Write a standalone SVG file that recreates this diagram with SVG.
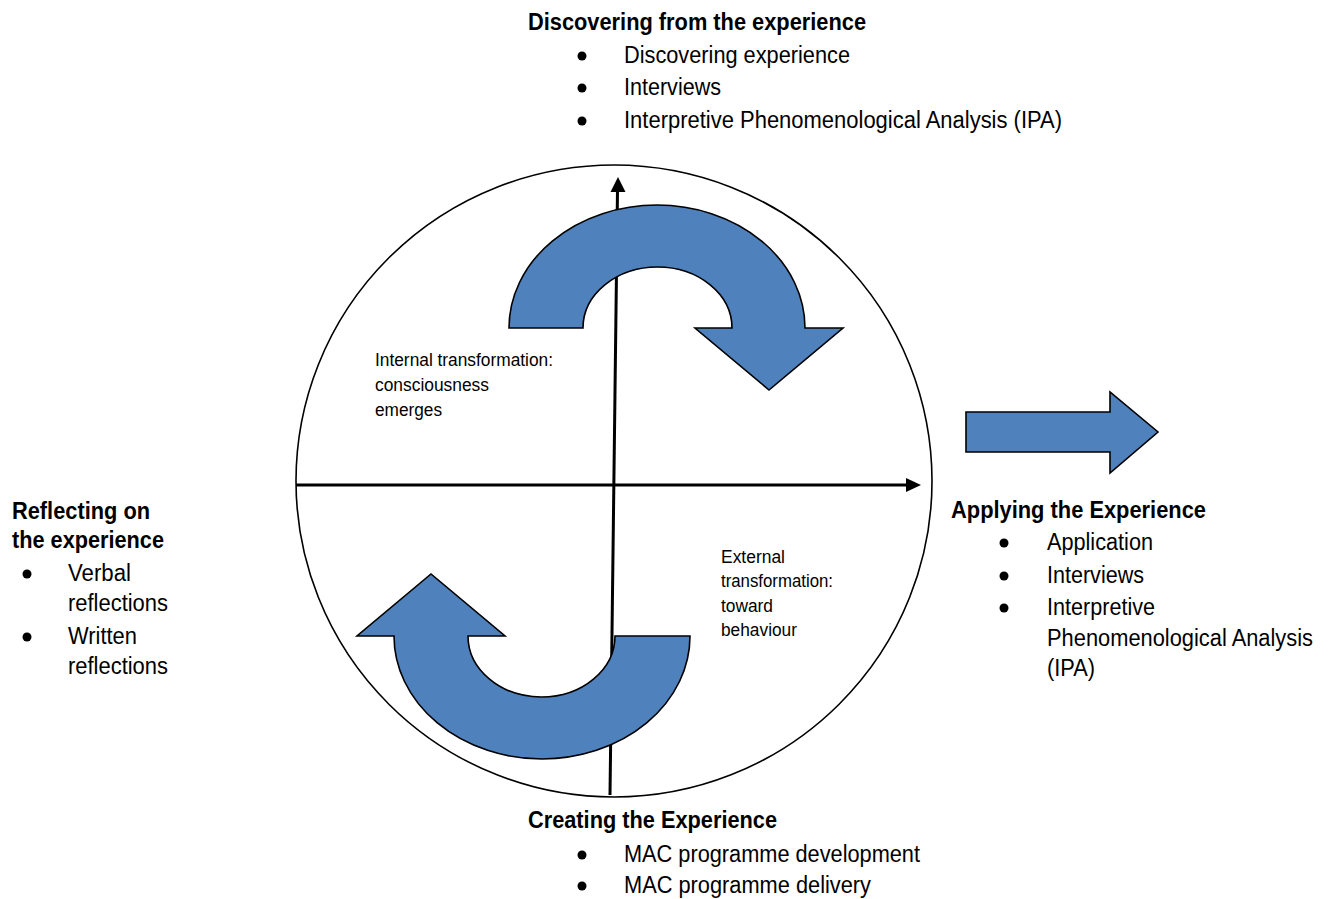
<svg xmlns="http://www.w3.org/2000/svg" width="1330" height="899" viewBox="0 0 1330 899">
<defs>
<style>
.t{font-family:"Liberation Sans Narrow","Liberation Sans",Arial,sans-serif;fill:#000}
.h{font-size:23px;font-weight:bold}
.b{font-size:23px}
.s{font-size:17.5px}
.blt{fill:#000}
.arr{fill:#4F81BD;stroke:#000;stroke-width:1.6;stroke-linejoin:miter}
.ax{stroke:#000;stroke-width:3;fill:none}
</style>
</defs>
<rect width="1330" height="899" fill="#fff"/>

<g id="cycle">
<ellipse cx="614" cy="481" rx="318" ry="316" fill="none" stroke="#000" stroke-width="1.6"/>
</g>

<g id="connectors">
<line class="ax" x1="296" y1="485" x2="910" y2="485"/>
<path d="M906,478 L921,485 L906,492 Z" fill="#000"/>
<line class="ax" x1="610" y1="795" x2="617.5" y2="190"/>
<path d="M610.5,192 L618,177 L625.5,192 Z" fill="#000"/>
</g>

<g id="arrow-top">
<path class="arr" d="M509,328 A148,123 0 0 1 805,328 L843,328 L769,390 L695,328 L732,328 A74.5,61 0 0 0 583,328 Z"/>
</g>

<g id="arrow-bottom">
<path class="arr" d="M690,636 A148,123 0 0 1 394,636 L357,636 L431,574 L505,636 L468,636 A73.5,61 0 0 0 615,636 Z"/>
</g>

<g id="arrow-right">
<path class="arr" d="M966,412 L1110,412 L1110,392 L1158,432 L1110,473 L1110,452 L966,452 Z"/>
</g>

<g id="node-discovering">
<text class="t h" x="528" y="30" textLength="338" lengthAdjust="spacingAndGlyphs">Discovering from the experience</text>
<circle class="blt" cx="582" cy="56" r="4.5"/>
<text class="t b" x="624" y="63" textLength="226" lengthAdjust="spacingAndGlyphs">Discovering experience</text>
<circle class="blt" cx="582" cy="88" r="4.5"/>
<text class="t b" x="624" y="95" textLength="97" lengthAdjust="spacingAndGlyphs">Interviews</text>
<circle class="blt" cx="582" cy="121" r="4.5"/>
<text class="t b" x="624" y="128" textLength="438" lengthAdjust="spacingAndGlyphs">Interpretive Phenomenological Analysis (IPA)</text>
</g>

<g id="node-reflecting">
<text class="t h" x="12" y="519" textLength="138" lengthAdjust="spacingAndGlyphs">Reflecting on</text>
<text class="t h" x="12" y="548" textLength="152" lengthAdjust="spacingAndGlyphs">the experience</text>
<circle class="blt" cx="27" cy="574" r="4.5"/>
<text class="t b" x="68" y="581" textLength="63" lengthAdjust="spacingAndGlyphs">Verbal</text>
<text class="t b" x="68" y="611" textLength="100" lengthAdjust="spacingAndGlyphs">reflections</text>
<circle class="blt" cx="27" cy="637" r="4.5"/>
<text class="t b" x="68" y="644" textLength="69" lengthAdjust="spacingAndGlyphs">Written</text>
<text class="t b" x="68" y="674" textLength="100" lengthAdjust="spacingAndGlyphs">reflections</text>
</g>

<g id="node-applying">
<text class="t h" x="951" y="518" textLength="255" lengthAdjust="spacingAndGlyphs">Applying the Experience</text>
<circle class="blt" cx="1004" cy="543" r="4.5"/>
<text class="t b" x="1047" y="550" textLength="106" lengthAdjust="spacingAndGlyphs">Application</text>
<circle class="blt" cx="1004" cy="576" r="4.5"/>
<text class="t b" x="1047" y="583" textLength="97" lengthAdjust="spacingAndGlyphs">Interviews</text>
<circle class="blt" cx="1004" cy="608" r="4.5"/>
<text class="t b" x="1047" y="615" textLength="108" lengthAdjust="spacingAndGlyphs">Interpretive</text>
<text class="t b" x="1047" y="646" textLength="266" lengthAdjust="spacingAndGlyphs">Phenomenological Analysis</text>
<text class="t b" x="1047" y="676" textLength="48" lengthAdjust="spacingAndGlyphs">(IPA)</text>
</g>

<g id="node-creating">
<text class="t h" x="528" y="828" textLength="249" lengthAdjust="spacingAndGlyphs">Creating the Experience</text>
<circle class="blt" cx="582" cy="855" r="4.5"/>
<text class="t b" x="624" y="862" textLength="296" lengthAdjust="spacingAndGlyphs">MAC programme development</text>
<circle class="blt" cx="582" cy="886" r="4.5"/>
<text class="t b" x="624" y="893" textLength="247" lengthAdjust="spacingAndGlyphs">MAC programme delivery</text>
</g>

<g id="label-internal">
<text class="t s" x="375" y="366" textLength="178" lengthAdjust="spacingAndGlyphs">Internal transformation:</text>
<text class="t s" x="375" y="391" textLength="114" lengthAdjust="spacingAndGlyphs">consciousness</text>
<text class="t s" x="375" y="416" textLength="67" lengthAdjust="spacingAndGlyphs">emerges</text>
</g>

<g id="label-external">
<text class="t s" x="721" y="563" textLength="64" lengthAdjust="spacingAndGlyphs">External</text>
<text class="t s" x="721" y="587" textLength="112" lengthAdjust="spacingAndGlyphs">transformation:</text>
<text class="t s" x="721" y="612" textLength="52" lengthAdjust="spacingAndGlyphs">toward</text>
<text class="t s" x="721" y="636" textLength="76" lengthAdjust="spacingAndGlyphs">behaviour</text>
</g>
</svg>
